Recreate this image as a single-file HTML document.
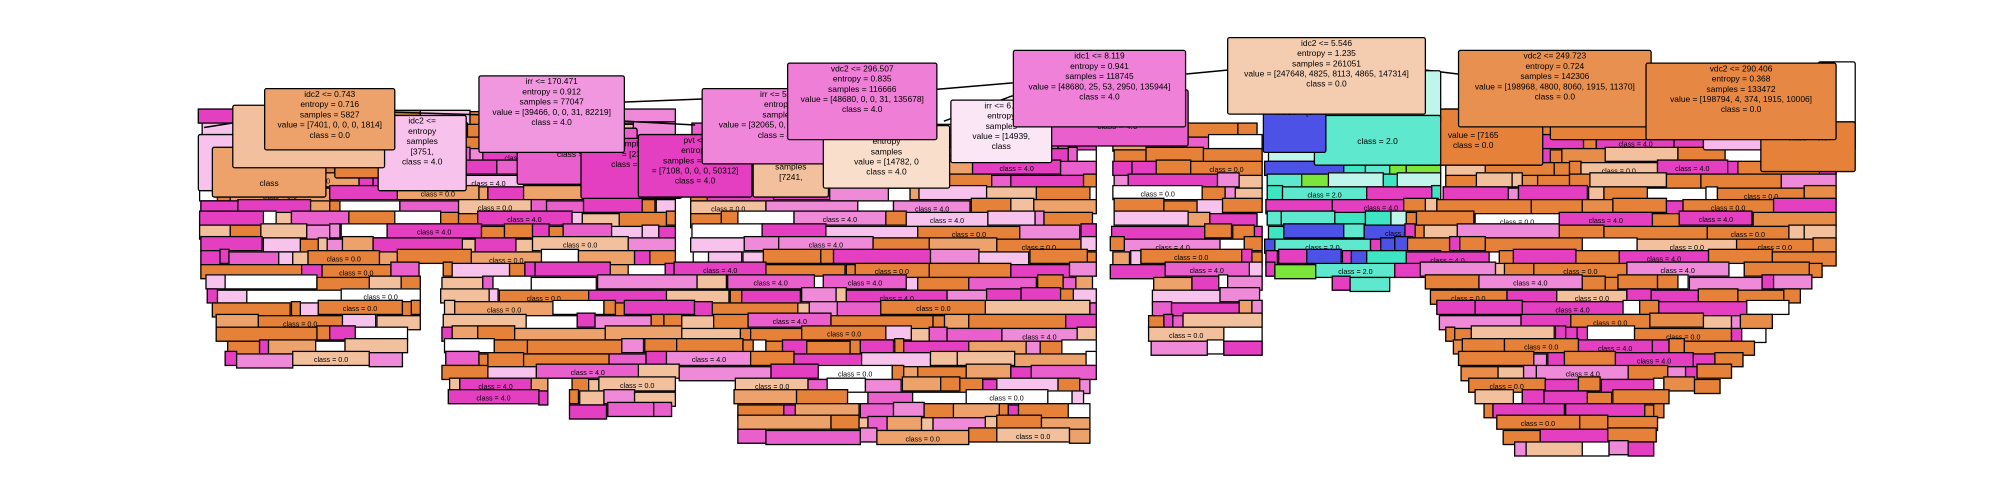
<!DOCTYPE html>
<html><head><meta charset="utf-8">
<style>
html,body{margin:0;padding:0;background:#fff;width:2000px;height:500px;overflow:hidden}
.wrap{position:absolute;left:0;top:0;width:1568px;height:392px;transform:scale(1.2755);transform-origin:0 0}
.b{position:absolute;border:1.2px solid #000;box-sizing:border-box;font-family:"Liberation Sans",sans-serif;font-size:6.6px;line-height:8.1px;text-align:center;color:#000;overflow:hidden;white-space:nowrap}
.m{border-radius:2px;padding-top:1px;border-width:1.3px}
.r{height:12px;font-size:5.6px;line-height:14px}
svg{position:absolute;left:0;top:0}
</style></head><body>
<div class="wrap" id="f"></div>
<div class="wrap">
<svg width="1568" height="392">
<g stroke="#000" stroke-width="1.2" fill="none">
<line x1="962" y1="55" x2="930" y2="58"/><line x1="1118" y1="55" x2="1143" y2="58"/>
<line x1="794" y1="65" x2="735" y2="70"/><line x1="617" y1="75" x2="490" y2="80"/>
<line x1="375" y1="90" x2="310" y2="88"/><line x1="1295" y1="70" x2="1330" y2="72"/>
<line x1="794" y1="75" x2="740" y2="95"/><line x1="490" y1="95" x2="545" y2="98"/>
<line x1="160" y1="100" x2="210" y2="92"/>
</g></svg>
<div class="b m" style="left:155px;top:105px;width:100px;height:45px;background:#f7c3ec"><br>value<br><br>class</div>
<div class="b m" style="left:166px;top:115px;width:90px;height:40px;background:#eda26b"><br>value<br><br>class</div>
<div class="b m" style="left:262px;top:98px;width:100px;height:42px;background:#e58139"><br><br>class = 0.0</div>
<div class="b m" style="left:296px;top:90px;width:70px;height:60px;background:#f7c3ec">idc2 &lt;=<br>entropy<br>samples<br>[3751,<br>class = 4.0</div>
<div class="b m" style="left:405px;top:100px;width:95px;height:45px;background:#e95fcb">samples = 45484<br>value = [, 0, 0, 0, 58350]<br>class = 4.0</div>
<div class="b m" style="left:455px;top:108px;width:80px;height:48px;background:#e53fc1">samples<br>= [23<br>class = 4.0</div>
<div class="b m" style="left:500px;top:105px;width:90px;height:50px;background:#e53fc1">pvt &lt;=<br>entropy<br>samples = 36379<br>= [7108, 0, 0, 0, 50312]<br>class = 4.0</div>
<div class="b m" style="left:590px;top:110px;width:60px;height:45px;background:#f2c09c">idc1<br>entropy<br>samples<br>[7241,</div>
<div class="b m" style="left:1100px;top:85px;width:110px;height:45px;background:#e58139">25<br><br>value = [7165<br>class = 0.0</div>
<div class="b m" style="left:1215px;top:60px;width:120px;height:50px;background:#e58139"><br>value = [19<br><br>class = 0.0</div>
<div class="b m" style="left:1335px;top:60px;width:103px;height:58px;background:#f7b8ea"><br>[...4697]<br><br>class = 4.0</div>
<div class="b m" style="left:1425px;top:48px;width:30px;height:70px;background:#ffffff"></div>
<div class="b m" style="left:1380px;top:95px;width:75px;height:40px;background:#e58139"><br>class = 0.0</div>
<div class="b m" style="left:993px;top:55px;width:137px;height:42px;background:#bff5ea">entropy = 0.931<br>samples = 13705<br>value = [174, 4796, 7686, 0, 136]<br>class = 2.0</div>
<div class="b m" style="left:1030px;top:90px;width:100px;height:40px;background:#5ee8cd"><br><br>class = 2.0</div>
<div class="b m" style="left:990px;top:75px;width:50px;height:45px;background:#4c52e5"><br>value = [0</div>
<div class="b m" style="left:820px;top:70px;width:112px;height:45px;background:#e95fcb">entropy = 0.602<br>samples = 69619<br>value = [9214, 0, 0, 0, 53459]<br>class = 4.0</div>
<div class="b m" style="left:745px;top:78px;width:80px;height:50px;background:#fbe6f6">irr &lt;= 6...<br>entropy<br>samples<br>value = [14939,<br>class</div>
<div class="b m" style="left:550px;top:69px;width:120px;height:60px;background:#ef86d9">irr &lt;= 550<br>entropy<br>samples<br>value = [32065, 0, 0, 31, 80405]<br>class = 4.0</div>
<div class="b m" style="left:645px;top:98px;width:100px;height:50px;background:#f9decb">idc1 &lt;= 5<br>entropy<br>samples<br>value = [14782, 0<br>class = 4.0</div>
<div class="b m" style="left:182px;top:82px;width:120px;height:50px;background:#f2c09c"><br><br>value = [...251]<br>class = 0.0</div>
<div class="b m" style="left:962px;top:29px;width:156px;height:61px;background:#f4cdb0">idc2 &lt;= 5.546<br>entropy = 1.235<br>samples = 261051<br>value = [247648, 4825, 8113, 4865, 147314]<br>class = 0.0</div>
<div class="b m" style="left:794px;top:39px;width:136px;height:61px;background:#ef82d8">idc1 &lt;= 8.119<br>entropy = 0.941<br>samples = 118745<br>value = [48680, 25, 53, 2950, 135944]<br>class = 4.0</div>
<div class="b m" style="left:1143px;top:39px;width:152px;height:61px;background:#e89050">vdc2 &lt;= 249.723<br>entropy = 0.724<br>samples = 142306<br>value = [198968, 4800, 8060, 1915, 11370]<br>class = 0.0</div>
<div class="b m" style="left:1290px;top:49px;width:150px;height:61px;background:#e68843">vdc2 &lt;= 290.406<br>entropy = 0.368<br>samples = 133472<br>value = [198794, 4, 374, 1915, 10006]<br>class = 0.0</div>
<div class="b m" style="left:617px;top:49px;width:118px;height:61px;background:#ee7ed6">vdc2 &lt;= 296.507<br>entropy = 0.835<br>samples = 116666<br>value = [48680, 0, 0, 31, 135678]<br>class = 4.0</div>
<div class="b m" style="left:375px;top:59px;width:115px;height:61px;background:#f197e0">irr &lt;= 170.471<br>entropy = 0.912<br>samples = 77047<br>value = [39466, 0, 0, 31, 82219]<br>class = 4.0</div>
<div class="b m" style="left:207px;top:69px;width:103px;height:49px;background:#eda26b">idc2 &lt;= 0.743<br>entropy = 0.716<br>samples = 5827<br>value = [7401, 0, 0, 0, 1814]<br>class = 0.0</div>
</div>
<script>
var P=["#e58139","#e58139","#e58139","#e53fc1","#e53fc1","#ee8ad8","#f2c09c","#eda26b","#ffffff","#f7c3ec","#e95fcb"];
var PR=["#e58139","#e58139","#e58139","#e58139","#e88c4a","#e53fc1","#e53fc1","#f2c09c","#ee8ad8","#ffffff"];
var PC=["#4c52e5","#4c52e5","#3de5c3","#3de5c3","#7be539","#e53fc1","#5ee8cd","#bff5ea"];
var seed=11;function r(){seed=(seed*16807)%2147483647;return seed/2147483647;}
function segs(y){var s=[];
 if(y<=280){var l=155+Math.max(0,(y-200))*0.25,rr=y<200?530:(y<250?330:320);if(y>=265)l=175;s.push([l,rr,P]);}
 if(y>=90&&y<=335){var a=(y<200?540:345),b=860;if(y>=290){a=350;b=855;}
   if(y>=290&&y<=310){s.push([350,430,P]);s.push([445,530,P]);a=575;}
   else if(y>310&&y<=320){s.push([445,530,P]);a=575;}
   else if(y>320){a=575;}
   s.push([a,b,P]);}
 if(y>=90&&y<=210)s.push([870,990,P]);
 if(y>=90&&y<=205)s.push([990,1130,PC]);
 if(y>210&&y<=265)s.push([900,990,P]);
 if(y>205&&y<=215)s.push([1040,1090,PC]);
 if(y>=80){var a2=1100,b2=1440;if(y<150)a2=1130;if(y>200){a2=1110+(y-200)*0.4;b2=1435-(y-200)*0.9;}if(y>300){a2=1150+(y-300)*0.8;b2=1310-(y-300)*0.3;}
  if(y<=350&&b2>a2+20)s.push([a2,b2,PR]);}
 return s;}
var h="";
for(var y=85;y<=345;y+=10){
 segs(y).forEach(function(sg){var x=sg[0]+r()*4;while(x<sg[1]-6){var w=8+Math.pow(r(),1.6)*75;if(x+w>sg[1])w=sg[1]-x;
  var c=sg[2][Math.floor(r()*sg[2].length)];
  var cls=(c=="#e58139"||c=="#f2c09c"||c=="#eda26b"||c=="#ffffff"||c=="#e88c4a")?"0.0":(c=="#e53fc1"||c=="#ee8ad8"||c=="#f7c3ec"||c=="#e95fcb")?"4.0":"2.0";
  var t=w>55&&r()<.5?"class = "+cls:"";
  h+='<div class="b r" style="left:'+x.toFixed(1)+'px;top:'+(y+(r()*3|0))+'px;width:'+w.toFixed(1)+'px;background:'+c+'">'+t+'</div>';
  x+=w-1;}});
}
document.getElementById("f").innerHTML=h;
</script>
</body></html>
